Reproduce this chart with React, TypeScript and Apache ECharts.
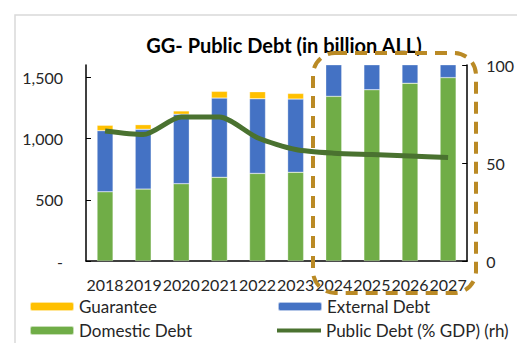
import React, { useEffect, useRef } from "react";
import * as echarts from "echarts";

const years = ["2018", "2019", "2020", "2021", "2022", "2023", "2024", "2025", "2026", "2027"];
const domesticDebt = [565, 587, 631, 683, 715, 724, 1344, 1398, 1451, 1497];
const externalDebt = [499, 488, 567, 647, 609, 598, 420, 400, 380, 360];
const guarantee = [44, 38, 27, 55, 58, 46, 40, 40, 40, 40];
const publicDebtPctGdp = [66.3, 64.5, 73.5, 73.5, 62.9, 56.9, 55.0, 54.3, 53.6, 52.8];
const leftTicks = [0, 500, 1000, 1500];
const rightTicks = [0, 50, 100];

const FONT = "Lato";
const TEXT = "#262626";

export default function App() {
  const ref = useRef<HTMLDivElement>(null);
  useEffect(() => {
    if (!ref.current) return;
    const chart = echarts.init(ref.current, undefined, { renderer: "svg" });
    const legendBase = {
      orient: "horizontal",
      itemWidth: 44,
      itemHeight: 9,
      itemGap: 6,
      textStyle: { fontFamily: FONT, fontSize: 17, color: TEXT, padding: [0, 0, 0, 0] },
      padding: 0,
      selectedMode: false,
    };
    chart.setOption({
      animation: false,
      backgroundColor: "#ffffff",
      title: {
        text: "GG- Public Debt (in billion ALL)",
        left: 279,
        top: 30,
        textAlign: "center",
        textStyle: { fontFamily: FONT, fontSize: 20, fontWeight: "bold", color: "#000000" },
      },
      legend: [
        { ...legendBase, left: 29, top: 298, data: ["Guarantee"] },
        { ...legendBase, left: 277, top: 298, data: ["External Debt"] },
        { ...legendBase, left: 29, top: 322, data: ["Domestic Debt"] },
        {
          ...legendBase,
          left: 277,
          top: 322,
          data: [{ name: "Public Debt (% GDP) (rh)", icon: "rect" }],
          itemHeight: 4,
        },
      ],
      grid: { left: 86, right: 45, top: 65, bottom: 82, containLabel: false },
      xAxis: {
        type: "category",
        data: years,
        boundaryGap: true,
        axisLine: { lineStyle: { color: "#000000", width: 1.5 } },
        axisTick: { inside: true, length: 5, lineStyle: { color: "#000000" } },
        axisLabel: { fontFamily: FONT, fontSize: 16, color: TEXT, margin: 15, interval: 0 },
      },
      yAxis: [
        {
          type: "value",
          min: 0,
          max: 1600,
          interval: 500,
          splitLine: { show: false },
          axisLine: { show: true, lineStyle: { color: "#000000", width: 1.5 } },
          axisTick: { show: true, inside: true, length: 5, customValues: leftTicks, lineStyle: { color: "#000000" } },
          axisLabel: {
            fontFamily: FONT,
            fontSize: 16,
            color: TEXT,
            margin: 23,
            customValues: leftTicks,
            formatter: (v: number) => (v === 0 ? "-" : v.toLocaleString("en-US")),
          },
        },
        {
          type: "value",
          min: 0,
          max: 100,
          interval: 50,
          position: "right",
          splitLine: { show: false },
          axisLine: { show: true, lineStyle: { color: "#000000", width: 1.5 } },
          axisTick: { show: true, inside: true, length: 5, customValues: rightTicks, lineStyle: { color: "#000000" } },
          axisLabel: { fontFamily: FONT, fontSize: 16, color: TEXT, margin: 19, customValues: rightTicks },
        },
      ],
      series: [
        {
          name: "Domestic Debt",
          type: "bar",
          stack: "debt",
          data: domesticDebt,
          barWidth: 16,
          itemStyle: { color: "#70AD47", borderColor: "rgba(255,255,255,0.6)", borderWidth: 0.5 },
        },
        {
          name: "External Debt",
          type: "bar",
          stack: "debt",
          data: externalDebt,
          barWidth: 16,
          itemStyle: { color: "#4472C4", borderColor: "rgba(255,255,255,0.6)", borderWidth: 0.5 },
        },
        {
          name: "Guarantee",
          type: "bar",
          stack: "debt",
          data: guarantee,
          barWidth: 16,
          itemStyle: { color: "#FFC000", borderColor: "rgba(255,255,255,0.6)", borderWidth: 0.5 },
        },
        {
          name: "Public Debt (% GDP) (rh)",
          type: "line",
          yAxisIndex: 1,
          data: publicDebtPctGdp,
          smooth: 0.25,
          symbol: "none",
          lineStyle: { color: "#4A7230", width: 5 },
          itemStyle: { color: "#4A7230" },
          z: 5,
        },
      ],
      graphic: [
        {
          type: "rect",
          shape: { x: 15, y: 15, width: 600, height: 500 },
          style: { fill: "none", stroke: "#D9D9D9", lineWidth: 1.5 },
          silent: true,
          z: 0,
        },
        {
          type: "rect",
          shape: { x: 313, y: 53, width: 163, height: 240, r: 22 },
          style: { fill: "none", stroke: "#BA8A25", lineWidth: 4, lineDash: [12, 8] },
          silent: true,
          z: 100,
        },
      ],
    });
    return () => chart.dispose();
  }, []);
  return <div ref={ref} style={{ position: "fixed", left: 0, top: 0, width: 517, height: 343 }} />;
}
